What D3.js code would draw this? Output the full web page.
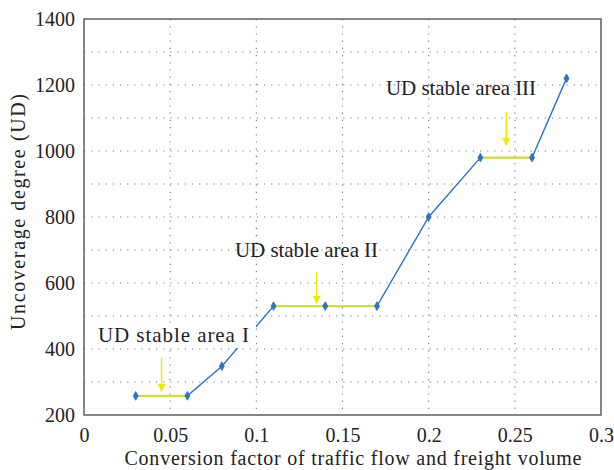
<!DOCTYPE html>
<html><head><meta charset="utf-8">
<script src="https://cdn.jsdelivr.net/npm/d3@7"></script>
<style>body{margin:0;background:#fff}svg text{font-family:"Liberation Serif","DejaVu Serif",serif;fill:#222}</style>
</head><body><svg id="c" width="614" height="470"></svg>
<script>
const xValues = [0.03, 0.06, 0.08, 0.11, 0.14, 0.17, 0.20, 0.23, 0.26, 0.28];
const udValues = [258, 258, 348, 530, 530, 530, 800, 980, 980, 1220];
const stableAreas = [
  {label: "UD stable area I", x0: 0.03, x1: 0.06, y: 258, arrowX: 0.045},
  {label: "UD stable area II", x0: 0.11, x1: 0.17, y: 530, arrowX: 0.135},
  {label: "UD stable area III", x0: 0.23, x1: 0.26, y: 980, arrowX: 0.245}
];
const xTicks = [0, 0.05, 0.1, 0.15, 0.2, 0.25, 0.3];
const yTicks = [200, 400, 600, 800, 1000, 1200, 1400];
const yGrid = [300, 400, 500, 600, 700, 800, 900, 1000, 1100, 1200, 1300];

const svg = d3.select("#c");
const L = 84, R = 601, T = 19, B = 415;
const x = d3.scaleLinear().domain([0, 0.3]).range([L, R]);
const y = d3.scaleLinear().domain([200, 1400]).range([B, T]);

// grid
const g = svg.append("g").attr("stroke", "#777").attr("stroke-width", 1.1).attr("stroke-dasharray", "1.2,6");
g.selectAll(".gx").data(xTicks.slice(1, -1)).join("line")
  .attr("x1", d => x(d)).attr("x2", d => x(d)).attr("y1", T).attr("y2", B);
g.selectAll(".gy").data(yGrid).join("line")
  .attr("y1", d => y(d)).attr("y2", d => y(d)).attr("x1", L).attr("x2", R);

// axes
const xAxis = d3.axisBottom(x).tickValues(xTicks).tickSize(0).tickPadding(12)
  .tickFormat(d => d === 0 ? "0" : String(+d.toFixed(2)));
const yAxis = d3.axisLeft(y).tickValues(yTicks).tickSize(0).tickPadding(9).tickFormat(d3.format("d"));
const ax = svg.append("g").attr("transform", `translate(0,${B})`).call(xAxis);
const ay = svg.append("g").attr("transform", `translate(${L},0)`).call(yAxis);
[ax, ay].forEach(a => { a.select(".domain").remove(); a.selectAll("text").style("font-size", "20px").attr("fill", "#222").attr("font-family", null); });
ax.selectAll("text").attr("dy", "0.75em");

// frame
svg.append("rect").attr("x", L).attr("y", T).attr("width", R - L).attr("height", B - T)
  .attr("fill", "none").attr("stroke", "#555").attr("stroke-width", 1.4);

// line
const line = d3.line().x((d, i) => x(xValues[i])).y(d => y(d));
svg.append("path").datum(udValues).attr("d", line)
  .attr("fill", "none").attr("stroke", "#2a74c0").attr("stroke-width", 1.4);

// stable segments
svg.selectAll(".seg").data(stableAreas).join("line")
  .attr("x1", d => x(d.x0)).attr("x2", d => x(d.x1)).attr("y1", d => y(d.y)).attr("y2", d => y(d.y))
  .attr("stroke", "#d2dc3c").attr("stroke-width", 2.2);

// markers
svg.selectAll(".mk").data(udValues).join("path")
  .attr("transform", (d, i) => `translate(${x(xValues[i])},${y(d)})`)
  .attr("d", d3.symbol(d3.symbolDiamond, 22))
  .attr("fill", "#2a74c0").attr("stroke", "#2a74c0").attr("stroke-width", 0.8);

// labels with white background
const labelPos = [{lx: 98, ly: 342, w: 151}, {lx: 235, ly: 257, w: 143}, {lx: 386, ly: 95, w: 150}];
stableAreas.forEach((d, i) => {
  const grp = svg.append("g");
  const t = grp.append("text").attr("x", labelPos[i].lx).attr("y", labelPos[i].ly)
    .style("font-size", "21px").attr("textLength", labelPos[i].w).attr("lengthAdjust", "spacing").text(d.label);
  if (i === 0) {
    const bb = t.node().getBBox();
    grp.insert("rect", "text").attr("x", bb.x - 2).attr("y", bb.y + 1)
      .attr("width", bb.width + 9).attr("height", bb.height).attr("fill", "#fff");
  }
});

// arrows
const arrowTop = [358, 272, 112], arrowBot = [392, 304, 146];
stableAreas.forEach((d, i) => {
  const ax0 = x(d.arrowX);
  svg.append("line").attr("x1", ax0).attr("x2", ax0).attr("y1", arrowTop[i]).attr("y2", arrowBot[i] - 6)
    .attr("stroke", "#f0ea00").attr("stroke-width", 1.5);
  svg.append("path").attr("d", `M${ax0 - 4},${arrowBot[i] - 8}L${ax0 + 4},${arrowBot[i] - 8}L${ax0},${arrowBot[i]}Z`)
    .attr("fill", "#f0ea00");
});

// axis titles
svg.append("text").attr("x", 353).attr("y", 465).attr("text-anchor", "middle")
  .style("font-size", "20px").attr("textLength", 457).attr("lengthAdjust", "spacing")
  .text("Conversion factor of traffic flow and freight volume");
svg.append("text").attr("transform", `translate(25,${212})rotate(-90)`).attr("text-anchor", "middle")
  .style("font-size", "20px").attr("textLength", 236).attr("lengthAdjust", "spacing")
  .text("Uncoverage degree (UD)");
</script></body></html>
